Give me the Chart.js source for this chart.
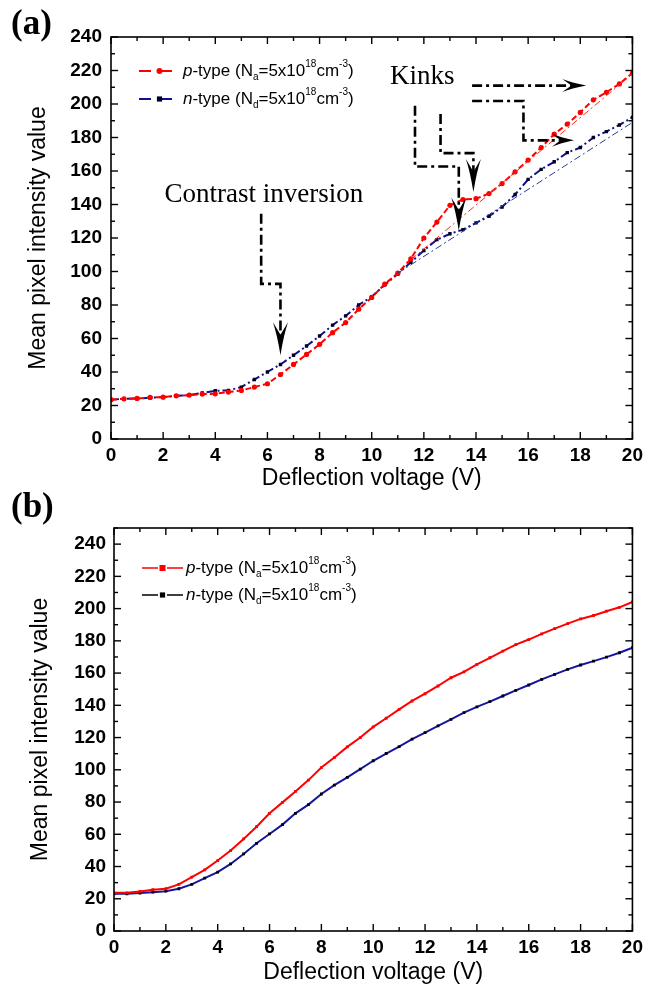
<!DOCTYPE html>
<html><head><meta charset="utf-8">
<script src="https://cdn.jsdelivr.net/npm/chart.js@4.4.1/dist/chart.umd.min.js"></script>
<style>
html,body{margin:0;padding:0;background:#fff;}
#wrap{position:relative;width:648px;height:993px;overflow:hidden;background:#fff;}
canvas{position:absolute;left:0;}
#ca{top:0;width:648px;height:496px;}
#cb{top:496px;width:648px;height:497px;}
.plab{position:absolute;font-family:'Liberation Serif','DejaVu Serif',serif;font-weight:bold;font-size:35px;color:#000;line-height:1;}
</style></head><body>
<div id="wrap">
<canvas id="ca" width="648" height="496"></canvas>
<canvas id="cb" width="648" height="497"></canvas>
<div class="plab" style="left:11px;top:5px">(a)</div>
<div class="plab" style="left:11px;top:488px">(b)</div>
</div>
<script>
// ---------- DATA ----------
const voltage = [0,0.5,1,1.5,2,2.5,3,3.5,4,4.5,5,5.5,6,6.5,7,7.5,8,8.5,9,9.5,10,10.5,11,11.5,12,12.5,13,13.5,14,14.5,15,15.5,16,16.5,17,17.5,18,18.5,19,19.5,20];
// panel (a)
const pTypeA = [23.5,24,24.2,24.8,25,25.8,26.2,26.8,27,28,29,31,33,38.5,44.5,50.5,56.5,63.5,69.5,77.5,84.5,92.5,99,107.5,120,129.5,139.5,143,143.5,146.5,152.5,159.5,166.5,174,182,188,195,202.5,207,212,218.5];
const nTypeA = [23.5,24,24.2,24.6,25,25.8,26.2,27.5,28.8,29,31,35.5,40,44.5,50,55.5,61.5,68,73.5,80,85,92,98.5,105.5,112.5,119,122.5,125,129,133,138.5,146,155,161,165.5,171,174,180,183.5,187.5,192];
// linear guide lines in (a)
const fitPAx = [11.5, 20];
const fitPAy = [107, 218];
const fitNAx = [11, 20];
const fitNAy = [99, 189];
// panel (b)
const pTypeB = [23.7,23.7,24.5,25.6,26.2,28.9,33.4,37.9,43.7,49.9,57.1,64.7,73,79.8,86.6,93.6,101.4,107.6,114.2,120,126.6,132,137.5,142.7,147.2,152,157.1,160.8,165.4,169.5,173.6,177.7,180.8,184.3,187.6,190.7,193.6,195.7,198.4,200.8,204.1];
const nTypeB = [23.1,23.1,23.5,24.1,24.7,26.2,28.9,32.8,36.5,41.6,47.8,54.4,60.2,66,73,78.4,85,90.5,95.3,100.4,105.6,110.1,114.4,119,123.1,127.2,131.3,135.5,139,142.3,145.8,149.3,152.6,156.1,159.2,162.3,165,167.4,169.9,172.6,175.7];
// axis tick labels
const xTickLabels = ['0','2','4','6','8','10','12','14','16','18','20'];
const yTickLabels = ['0','20','40','60','80','100','120','140','160','180','200','220','240'];

// ---------- STYLE ----------
const tickFont = "'Liberation Sans Narrow','Arial Narrow','Liberation Sans',Arial,sans-serif";
const titleFont = "'Liberation Sans',Arial,sans-serif";
const serifFont = "'Liberation Serif','Times New Roman',serif";

const pts = (xs, ys) => xs.map((x, i) => ({x, y: ys[i]}));

const legendParts = (sym, sub) => [
  {t: sym, i: true}, {t: '-type (N'}, {t: sub, s: 'sub'}, {t: '=5x10'}, {t: '18', s: 'sup'},
  {t: 'cm'}, {t: '-3', s: 'sup'}, {t: ')'}
];

function drawRich(ctx, x, y, parts, size) {
  let cx = x;
  ctx.textBaseline = 'middle';
  ctx.textAlign = 'left';
  ctx.fillStyle = '#000';
  for (const p of parts) {
    const fs = p.s ? Math.round(size * 0.6) : size;
    ctx.font = (p.i ? 'italic ' : '') + fs + 'px ' + titleFont;
    const dy = p.s === 'sub' ? size * 0.35 : p.s === 'sup' ? -size * 0.38 : 0;
    ctx.fillText(p.t, cx, y + dy);
    cx += ctx.measureText(p.t).width;
  }
}

function marker(ctx, style, x, y, r, color) {
  ctx.fillStyle = color;
  ctx.beginPath();
  if (style === 'circle') ctx.arc(x, y, r, 0, Math.PI * 2);
  else ctx.rect(x - r, y - r, 2 * r, 2 * r);
  ctx.fill();
}

// frame + inside ticks on all four sides, from the scales
const frameTicks = {
  id: 'frameTicks',
  afterDatasetsDraw(chart, args, o) {
    const {ctx, chartArea: a, scales: {x, y}} = chart;
    ctx.save();
    ctx.strokeStyle = '#000';
    ctx.lineWidth = 1.6;
    ctx.setLineDash([]);
    ctx.strokeRect(a.left, a.top, a.right - a.left, a.bottom - a.top);
    ctx.lineWidth = 1.4;
    const seg = (x1, y1, x2, y2) => { ctx.beginPath(); ctx.moveTo(x1, y1); ctx.lineTo(x2, y2); ctx.stroke(); };
    for (let k = 0; x.min + k * o.xMinor <= x.max + 1e-9; k++) {
      const v = x.min + k * o.xMinor;
      const px = x.getPixelForValue(v);
      const len = (k % 2 === 0) ? 7 : 4;
      seg(px, a.bottom, px, a.bottom - len);
      seg(px, a.top, px, a.top + len);
    }
    for (let k = 0; y.min + k * o.yMinor <= y.max + 1e-9; k++) {
      const v = y.min + k * o.yMinor;
      const py = y.getPixelForValue(v);
      const len = (k % 2 === 0) ? 7 : 4;
      seg(a.left, py, a.left + len, py);
      seg(a.right, py, a.right - len, py);
    }
    ctx.restore();
  }
};

// custom legend with sub/superscripts
const richLegend = {
  id: 'richLegend',
  afterDatasetsDraw(chart, args, o) {
    const {ctx, chartArea: a} = chart;
    ctx.save();
    o.rows.forEach(r => {
      const yy = a.top + r.dy;
      ctx.strokeStyle = r.color;
      ctx.lineWidth = r.width;
      ctx.setLineDash(r.dash || []);
      ctx.beginPath();
      ctx.moveTo(a.left + 28, yy); ctx.lineTo(a.left + 69, yy);
      ctx.stroke();
      ctx.setLineDash([]);
      marker(ctx, r.marker, a.left + 48.5, yy, r.mr, r.mcolor);
      drawRich(ctx, a.left + 72, yy, r.parts, 17);
    });
    ctx.restore();
  }
};

// annotation arrows and texts (in data coordinates)
const annotationsA = {
  arrows: [
    {path: [[5.76,134.5],[5.76,92.6],[6.5,92.6],[6.5,50]], L: 33, W: 15},
    {path: [[11.66,199],[11.66,162.7],[13.34,162.7],[13.34,124.5]], L: 33, W: 15},
    {path: [[12.64,194],[12.64,170.7],[13.9,170.7],[13.9,147.4]], L: 33, W: 15},
    {path: [[13.85,211],[18.23,211]], L: 24, W: 13},
    {path: [[13.85,201.8],[15.82,201.8],[15.82,178.3],[17.76,178.3]], L: 22, W: 13}
  ],
  texts: [
    {text: 'Kinks', x: 11.94, y: 216},
    {text: 'Contrast inversion', x: 5.86, y: 145.7}
  ]
};

const annotate = {
  id: 'annotate',
  afterDatasetsDraw(chart, args, o) {
    if (!o.enabled) return;
    const {ctx, scales: {x, y}} = chart;
    ctx.save();
    annotationsA.arrows.forEach(ar => {
      const p = ar.path.map(([vx, vy]) => [x.getPixelForValue(vx), y.getPixelForValue(vy)]);
      const n = p.length;
      const [tx, ty] = p[n - 1];
      const [sx, sy] = p[n - 2];
      const d = Math.hypot(tx - sx, ty - sy);
      const ux = (tx - sx) / d, uy = (ty - sy) / d;
      ctx.strokeStyle = '#000';
      ctx.lineWidth = 2.6;
      ctx.setLineDash([10, 4, 3, 4]);
      ctx.beginPath();
      ctx.moveTo(p[0][0], p[0][1]);
      for (let i = 1; i < n - 1; i++) ctx.lineTo(p[i][0], p[i][1]);
      ctx.lineTo(tx - ux * ar.L * 0.6, ty - uy * ar.L * 0.6);
      ctx.stroke();
      ctx.setLineDash([]);
      // dart head
      const px = -uy, py = ux;
      const bx = tx - ux * ar.L, by = ty - uy * ar.L;
      const nx = tx - ux * ar.L * 0.62, ny = ty - uy * ar.L * 0.62;
      ctx.fillStyle = '#000';
      ctx.beginPath();
      ctx.moveTo(tx, ty);
      ctx.quadraticCurveTo(nx + px * ar.W * 0.22, ny + py * ar.W * 0.22, bx + px * ar.W / 2, by + py * ar.W / 2);
      ctx.lineTo(nx, ny);
      ctx.lineTo(bx - px * ar.W / 2, by - py * ar.W / 2);
      ctx.quadraticCurveTo(nx - px * ar.W * 0.22, ny - py * ar.W * 0.22, tx, ty);
      ctx.fill();
    });
    ctx.fillStyle = '#000';
    ctx.font = '27px ' + serifFont;
    ctx.textAlign = 'center';
    ctx.textBaseline = 'middle';
    annotationsA.texts.forEach(t => {
      ctx.fillText(t.text, x.getPixelForValue(t.x), y.getPixelForValue(t.y));
    });
    ctx.restore();
  }
};

function options(c) {
  return {
    responsive: false, animation: false, devicePixelRatio: 1,
    layout: {padding: {top: c.padTop, right: c.padRight, left: 0, bottom: 0}},
    plugins: {
      legend: {display: false}, tooltip: {enabled: false},
      frameTicks: {xMinor: 1, yMinor: 10},
      richLegend: {rows: c.legendRows},
      annotate: {enabled: c.annotate}
    },
    elements: {line: {tension: 0}},
    scales: {
      x: {
        type: 'linear', min: 0, max: 20,
        grid: {display: false, drawTicks: false}, border: {display: false},
        ticks: {stepSize: 2, includeBounds: false, autoSkip: false, maxRotation: 0, padding: c.xPad, color: '#000',
          font: {family: tickFont, size: 19, weight: 'bold'},
          callback: (v) => { const s = String(v); return xTickLabels.includes(s) ? s : ''; }},
        title: {display: true, text: 'Deflection voltage (V)', color: '#000',
          font: {family: titleFont, size: 23}, padding: {top: 0, bottom: c.xTitlePad}},
        afterFit: (s) => { s.height = c.xH; }
      },
      y: {
        type: 'linear', min: 0, max: c.yMax,
        grid: {display: false, drawTicks: false}, border: {display: false},
        ticks: {stepSize: 20, includeBounds: false, autoSkip: false, padding: c.yPad, color: '#000',
          font: {family: tickFont, size: 19, weight: 'bold'},
          callback: (v) => { const s = String(v); return yTickLabels.includes(s) ? s : ''; }},
        title: {display: true, text: 'Mean pixel intensity value', color: '#000',
          font: {family: titleFont, size: 23}, padding: {top: c.yTitlePad, bottom: 0}},
        afterFit: (s) => { s.width = c.yW; }
      }
    }
  };
}

Chart.register(frameTicks, richLegend, annotate);

new Chart(document.getElementById('ca'), {
  type: 'line',
  data: {datasets: [
    {data: pts(fitPAx, fitPAy), borderColor: '#ff2a2a', borderWidth: 1, borderDash: [7, 3, 2, 3], pointRadius: 0},
    {data: pts(fitNAx, fitNAy), borderColor: '#1f3f8f', borderWidth: 1, borderDash: [7, 3, 2, 3], pointRadius: 0},
    {data: pts(voltage, pTypeA), borderColor: '#ff0000', borderWidth: 2, borderDash: [6, 3],
      pointStyle: 'circle', pointRadius: 2.6, pointBorderWidth: 0, pointBackgroundColor: '#ff0000'},
    {data: pts(voltage, nTypeA), borderColor: '#10108c', borderWidth: 2, borderDash: [8, 3, 2, 3],
      pointStyle: 'rect', pointRadius: 2.4, pointBorderWidth: 0, pointBackgroundColor: '#000022'}
  ]},
  options: options({
    padTop: 37, padRight: 11, xPad: 5, xH: 57, xTitlePad: 4, yW: 111, yPad: 9, yTitlePad: 25, yMax: 240, annotate: true,
    legendRows: [
      {dy: 34, color: '#ff0000', width: 2, dash: [12, 9], marker: 'circle', mr: 3, mcolor: '#ff0000', parts: legendParts('p', 'a')},
      {dy: 62, color: '#10108c', width: 2, dash: [12, 9], marker: 'rect', mr: 2.6, mcolor: '#000022', parts: legendParts('n', 'd')}
    ]
  })
});

new Chart(document.getElementById('cb'), {
  type: 'line',
  data: {datasets: [
    {data: pts(voltage, pTypeB), borderColor: '#ff0000', borderWidth: 2,
      pointStyle: 'rect', pointRadius: 2, pointBorderWidth: 0, pointBackgroundColor: '#ff0000'},
    {data: pts(voltage, nTypeB), borderColor: '#1515a0', borderWidth: 2,
      pointStyle: 'rect', pointRadius: 2, pointBorderWidth: 0, pointBackgroundColor: '#000000'}
  ]},
  options: options({
    padTop: 32, padRight: 11, xPad: 5, xH: 62, xTitlePad: 7, yW: 114, yPad: 8, yTitlePad: 27, yMax: 250, annotate: false,
    legendRows: [
      {dy: 40, color: '#ff0000', width: 1.3, dash: [16, 9], marker: 'rect', mr: 3, mcolor: '#ff0000', parts: legendParts('p', 'a')},
      {dy: 67, color: '#000000', width: 1.3, dash: [16, 9], marker: 'rect', mr: 2.6, mcolor: '#000000', parts: legendParts('n', 'd')}
    ]
  })
});
</script>
</body></html>
